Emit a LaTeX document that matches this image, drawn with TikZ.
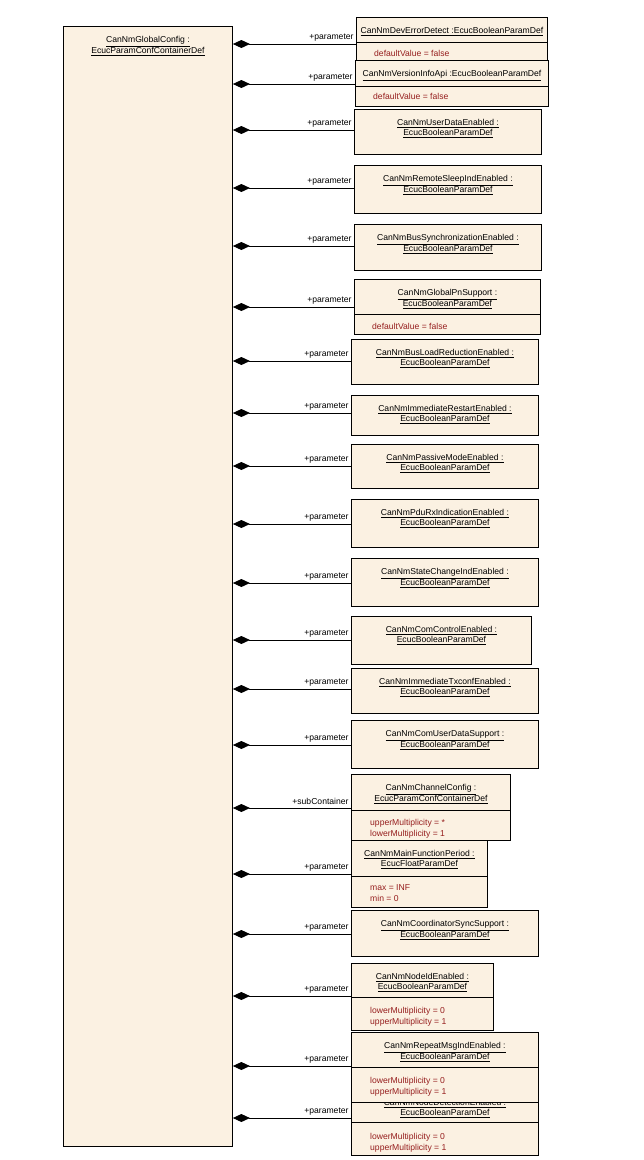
\documentclass[tikz,border=0pt]{standalone}
\usepackage{fontspec}
\setmainfont{Liberation Sans}
\usetikzlibrary{arrows.meta, positioning, calc}
\definecolor{boxfill}{RGB}{251,241,226}
\definecolor{attrred}{RGB}{150,30,30}

\begin{document}
\begin{tikzpicture} [x=1pt, y=-1pt,
    every node/.style={font=\fontsize{8.6}{10}\selectfont},
    pbox/.style={draw, fill=boxfill, line width=0.9pt, anchor=north west, inner sep=0pt},
    ptitle/.style={align=center, inner sep=0pt},
    pattr/.style={align=left, inner sep=0pt, text=attrred, font=\fontsize{8.6}{11}\selectfont},
    comp/.style={{Diamond[length=17pt, width=8pt]}-, line width=0.9pt},
    role/.style={anchor=south east, inner xsep=2pt, inner ysep=2.5pt}]
    \useasboundingbox (0,0) rectangle (643,1160);

    % container
    \node (gc) [pbox, minimum width=169pt, minimum height=1120pt] at (63,26) {};
    \node (gc-t) [ptitle, below=10.5pt of gc.north] {\underline{CanNmGlobalConfig :}\\\underline{EcucParamConfContainerDef}};

    % parameters
    \node (deverr) [pbox, minimum width=191pt, minimum height=44pt] at (356,17) {};
    \node (deverr-t) [ptitle, below=10.5pt of deverr.north] {\underline{CanNmDevErrorDetect :EcucBooleanParamDef}};
    \draw [line width=0.9pt] ($(deverr.north west)+(0,25)$) -- ++(191,0);
    \node (deverr-a) [pattr, below right=33pt and 18pt of deverr.north west] {defaultValue = false};

    \node (verinfo) [pbox, minimum width=193pt, minimum height=46pt] at (355,60) {};
    \node (verinfo-t) [ptitle, below=10.5pt of verinfo.north] {\underline{CanNmVersionInfoApi :EcucBooleanParamDef}};
    \draw [line width=0.9pt] ($(verinfo.north west)+(0,26)$) -- ++(193,0);
    \node (verinfo-a) [pattr, below right=33.5pt and 18pt of verinfo.north west] {defaultValue = false};

    \node (userdata) [pbox, minimum width=187pt, minimum height=45pt] at (354,109) {};
    \node (userdata-t) [ptitle, below=10.5pt of userdata.north] {\underline{CanNmUserDataEnabled :}\\\underline{EcucBooleanParamDef}};

    \node (remsleep) [pbox, minimum width=187pt, minimum height=48pt] at (354,165) {};
    \node (remsleep-t) [ptitle, below=10.5pt of remsleep.north] {\underline{CanNmRemoteSleepIndEnabled :}\\\underline{EcucBooleanParamDef}};

    \node (bussync) [pbox, minimum width=187pt, minimum height=46pt] at (354,224) {};
    \node (bussync-t) [ptitle, below=10.5pt of bussync.north] {\underline{CanNmBusSynchronizationEnabled :}\\\underline{EcucBooleanParamDef}};

    \node (globalpn) [pbox, minimum width=186pt, minimum height=55pt] at (354,279) {};
    \node (globalpn-t) [ptitle, below=10.5pt of globalpn.north] {\underline{CanNmGlobalPnSupport :}\\\underline{EcucBooleanParamDef}};
    \draw [line width=0.9pt] ($(globalpn.north west)+(0,35)$) -- ++(186,0);
    \node (globalpn-a) [pattr, below right=44.5pt and 18pt of globalpn.north west] {defaultValue = false};

    \node (busload) [pbox, minimum width=187pt, minimum height=45pt] at (351,339) {};
    \node (busload-t) [ptitle, below=10.5pt of busload.north] {\underline{CanNmBusLoadReductionEnabled :}\\\underline{EcucBooleanParamDef}};

    \node (immrestart) [pbox, minimum width=187pt, minimum height=40pt] at (351,395) {};
    \node (immrestart-t) [ptitle, below=10.5pt of immrestart.north] {\underline{CanNmImmediateRestartEnabled :}\\\underline{EcucBooleanParamDef}};

    \node (passive) [pbox, minimum width=187pt, minimum height=44pt] at (351,444) {};
    \node (passive-t) [ptitle, below=10.5pt of passive.north] {\underline{CanNmPassiveModeEnabled :}\\\underline{EcucBooleanParamDef}};

    \node (pdurx) [pbox, minimum width=187pt, minimum height=48pt] at (351,499) {};
    \node (pdurx-t) [ptitle, below=10.5pt of pdurx.north] {\underline{CanNmPduRxIndicationEnabled :}\\\underline{EcucBooleanParamDef}};

    \node (statechg) [pbox, minimum width=187pt, minimum height=48pt] at (351,558) {};
    \node (statechg-t) [ptitle, below=10.5pt of statechg.north] {\underline{CanNmStateChangeIndEnabled :}\\\underline{EcucBooleanParamDef}};

    \node (comctrl) [pbox, minimum width=180pt, minimum height=48pt] at (351,616) {};
    \node (comctrl-t) [ptitle, below=10.5pt of comctrl.north] {\underline{CanNmComControlEnabled :}\\\underline{EcucBooleanParamDef}};

    \node (immtx) [pbox, minimum width=187pt, minimum height=45pt] at (351,668) {};
    \node (immtx-t) [ptitle, below=10.5pt of immtx.north] {\underline{CanNmImmediateTxconfEnabled :}\\\underline{EcucBooleanParamDef}};

    \node (comuser) [pbox, minimum width=187pt, minimum height=48pt] at (351,720) {};
    \node (comuser-t) [ptitle, below=10.5pt of comuser.north] {\underline{CanNmComUserDataSupport :}\\\underline{EcucBooleanParamDef}};

    \node (chancfg) [pbox, minimum width=159pt, minimum height=66pt] at (351,774) {};
    \node (chancfg-t) [ptitle, below=10.5pt of chancfg.north] {\underline{CanNmChannelConfig :}\\\underline{EcucParamConfContainerDef}};
    \draw [line width=0.9pt] ($(chancfg.north west)+(0,36)$) -- ++(159,0);
    \node (chancfg-a) [pattr, below right=44.8pt and 19pt of chancfg.north west] {upperMultiplicity = *\\lowerMultiplicity = 1};

    \node (mainfn) [pbox, minimum width=136pt, minimum height=67pt] at (351,840) {};
    \node (mainfn-t) [ptitle, below=10.5pt of mainfn.north] {\underline{CanNmMainFunctionPeriod :}\\\underline{EcucFloatParamDef}};
    \draw [line width=0.9pt] ($(mainfn.north west)+(0,36)$) -- ++(137,0);
    \node (mainfn-a) [pattr, below right=44.8pt and 19pt of mainfn.north west] {max = INF\\min = 0};

    \node (coordsync) [pbox, minimum width=187pt, minimum height=46pt] at (351,910) {};
    \node (coordsync-t) [ptitle, below=10.5pt of coordsync.north] {\underline{CanNmCoordinatorSyncSupport :}\\\underline{EcucBooleanParamDef}};

    \node (nodeid) [pbox, minimum width=142pt, minimum height=67pt] at (351,963) {};
    \node (nodeid-t) [ptitle, below=10.5pt of nodeid.north] {\underline{CanNmNodeIdEnabled :}\\\underline{EcucBooleanParamDef}};
    \draw [line width=0.9pt] ($(nodeid.north west)+(0,34)$) -- ++(143,0);
    \node (nodeid-a) [pattr, below right=43.8pt and 19pt of nodeid.north west] {lowerMultiplicity = 0\\upperMultiplicity = 1};

    % node detection lies under repeat msg
    \node (nodedet) [pbox, minimum width=187pt, minimum height=59pt] at (351,1096) {};
    \node (nodedet-t) [ptitle, below=3pt of nodedet.north] {\underline{CanNmNodeDetectionEnabled :}\\\underline{EcucBooleanParamDef}};
    \draw [line width=0.9pt] ($(nodedet.north west)+(0,26)$) -- ++(188,0);
    \node (nodedet-a) [pattr, below right=37.5pt and 19pt of nodedet.north west] {lowerMultiplicity = 0\\upperMultiplicity = 1};

    \node (repeatmsg) [pbox, minimum width=187pt, minimum height=69.5pt] at (351,1032) {};
    \node (repeatmsg-t) [ptitle, below=10.5pt of repeatmsg.north] {\underline{CanNmRepeatMsgIndEnabled :}\\\underline{EcucBooleanParamDef}};
    \draw [line width=0.9pt] ($(repeatmsg.north west)+(0,35)$) -- ++(188,0);
    \node (repeatmsg-a) [pattr, below right=45.5pt and 19pt of repeatmsg.north west] {lowerMultiplicity = 0\\upperMultiplicity = 1};

    % connector ends
    \coordinate (deverr-in) at ($(deverr.north west)+(0,27)$);
    \coordinate (verinfo-in) at ($(verinfo.north west)+(0,24)$);
    \coordinate (userdata-in) at ($(userdata.north west)+(0,21)$);
    \coordinate (remsleep-in) at ($(remsleep.north west)+(0,23)$);
    \coordinate (bussync-in) at ($(bussync.north west)+(0,22)$);
    \coordinate (globalpn-in) at ($(globalpn.north west)+(0,28)$);
    \coordinate (busload-in) at ($(busload.north west)+(0,22)$);
    \coordinate (immrestart-in) at ($(immrestart.north west)+(0,18)$);
    \coordinate (passive-in) at ($(passive.north west)+(0,22)$);
    \coordinate (pdurx-in) at ($(pdurx.north west)+(0,25)$);
    \coordinate (statechg-in) at ($(statechg.north west)+(0,25)$);
    \coordinate (comctrl-in) at ($(comctrl.north west)+(0,24)$);
    \coordinate (immtx-in) at ($(immtx.north west)+(0,21)$);
    \coordinate (comuser-in) at ($(comuser.north west)+(0,25)$);
    \coordinate (chancfg-in) at ($(chancfg.north west)+(0,34)$);
    \coordinate (mainfn-in) at ($(mainfn.north west)+(0,34)$);
    \coordinate (coordsync-in) at ($(coordsync.north west)+(0,24)$);
    \coordinate (nodeid-in) at ($(nodeid.north west)+(0,33)$);
    \coordinate (repeatmsg-in) at ($(repeatmsg.north west)+(0,34)$);
    \coordinate (nodedet-in) at ($(nodedet.north west)+(0,22)$);

    % compositions
    \draw [comp] (gc.east |- deverr-in) -- (deverr-in) node (deverr-r) [role] {+parameter};
    \draw [comp] (gc.east |- verinfo-in) -- (verinfo-in) node (verinfo-r) [role] {+parameter};
    \draw [comp] (gc.east |- userdata-in) -- (userdata-in) node (userdata-r) [role] {+parameter};
    \draw [comp] (gc.east |- remsleep-in) -- (remsleep-in) node (remsleep-r) [role] {+parameter};
    \draw [comp] (gc.east |- bussync-in) -- (bussync-in) node (bussync-r) [role] {+parameter};
    \draw [comp] (gc.east |- globalpn-in) -- (globalpn-in) node (globalpn-r) [role] {+parameter};
    \draw [comp] (gc.east |- busload-in) -- (busload-in) node (busload-r) [role] {+parameter};
    \draw [comp] (gc.east |- immrestart-in) -- (immrestart-in) node (immrestart-r) [role] {+parameter};
    \draw [comp] (gc.east |- passive-in) -- (passive-in) node (passive-r) [role] {+parameter};
    \draw [comp] (gc.east |- pdurx-in) -- (pdurx-in) node (pdurx-r) [role] {+parameter};
    \draw [comp] (gc.east |- statechg-in) -- (statechg-in) node (statechg-r) [role] {+parameter};
    \draw [comp] (gc.east |- comctrl-in) -- (comctrl-in) node (comctrl-r) [role] {+parameter};
    \draw [comp] (gc.east |- immtx-in) -- (immtx-in) node (immtx-r) [role] {+parameter};
    \draw [comp] (gc.east |- comuser-in) -- (comuser-in) node (comuser-r) [role] {+parameter};
    \draw [comp] (gc.east |- chancfg-in) -- (chancfg-in) node (chancfg-r) [role] {+subContainer};
    \draw [comp] (gc.east |- mainfn-in) -- (mainfn-in) node (mainfn-r) [role] {+parameter};
    \draw [comp] (gc.east |- coordsync-in) -- (coordsync-in) node (coordsync-r) [role] {+parameter};
    \draw [comp] (gc.east |- nodeid-in) -- (nodeid-in) node (nodeid-r) [role] {+parameter};
    \draw [comp] (gc.east |- repeatmsg-in) -- (repeatmsg-in) node (repeatmsg-r) [role] {+parameter};
    \draw [comp] (gc.east |- nodedet-in) -- (nodedet-in) node (nodedet-r) [role] {+parameter};
\end{tikzpicture}
\end{document}
